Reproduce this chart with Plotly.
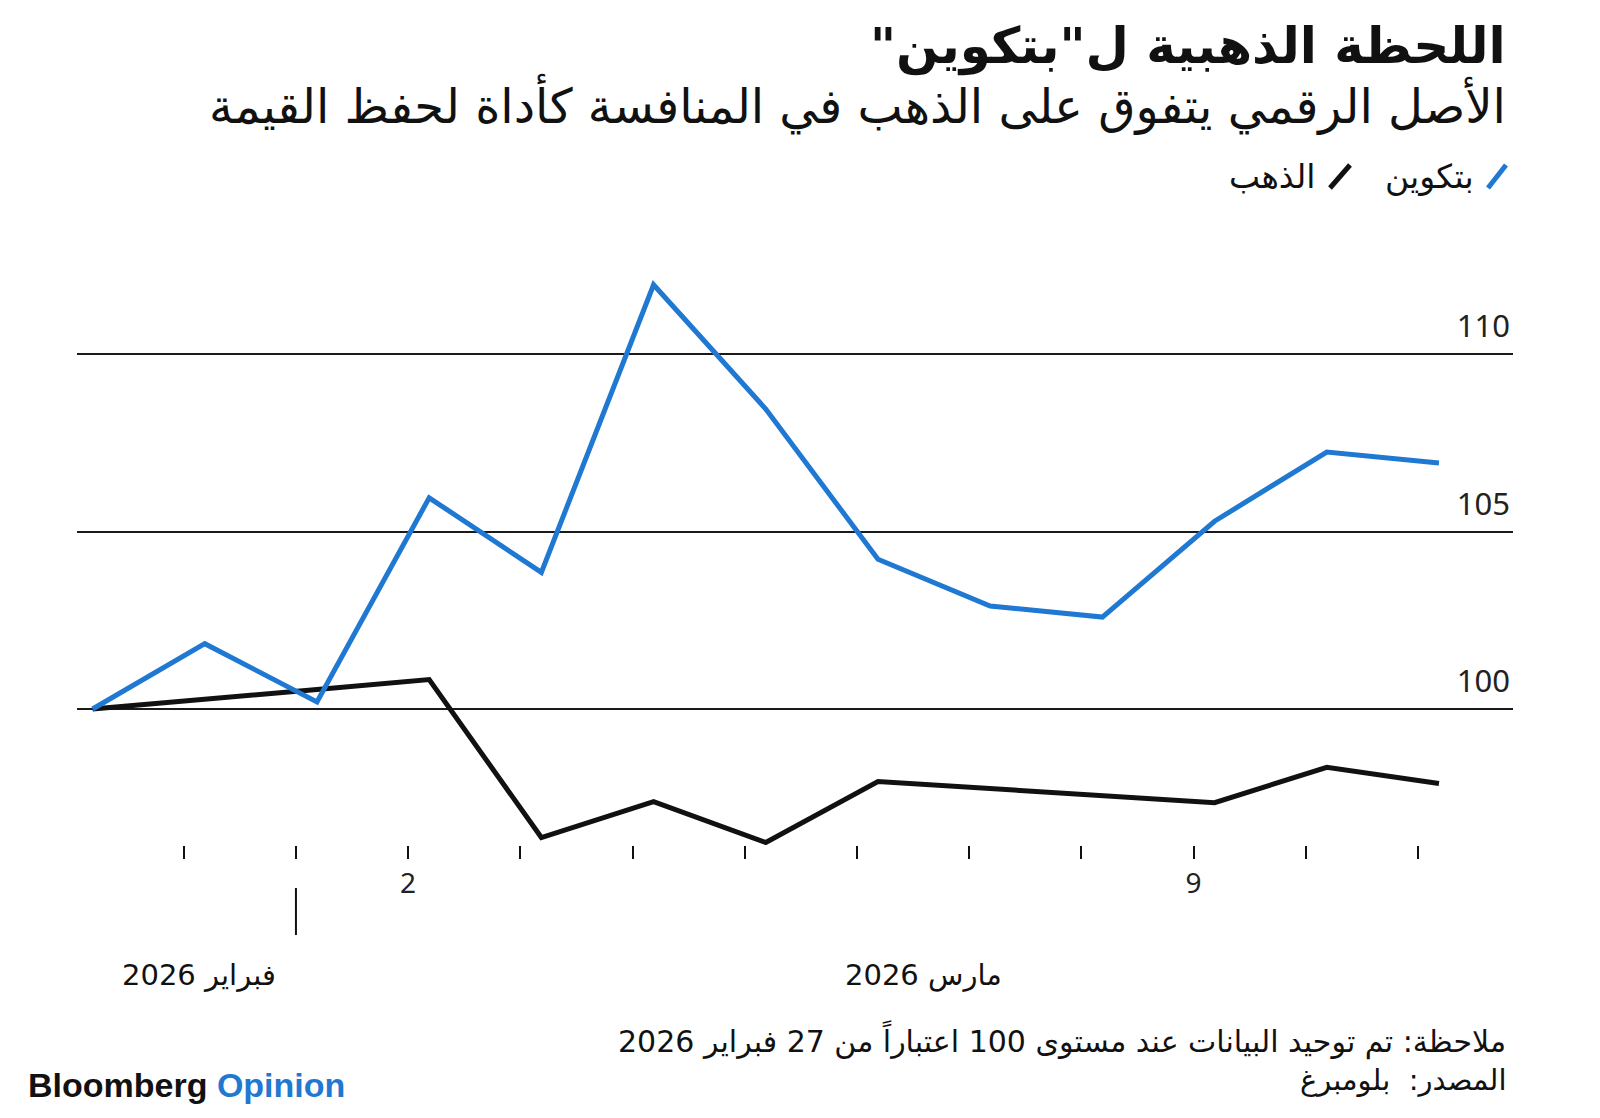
import pandas as pd
import plotly.graph_objects as go

# ---- data ----
dates = ["2026-02-27", "2026-02-28", "2026-03-01", "2026-03-02", "2026-03-03",
         "2026-03-04", "2026-03-05", "2026-03-06", "2026-03-07", "2026-03-08",
         "2026-03-09", "2026-03-10", "2026-03-11"]
bitcoin = [100.0, 101.84, 100.2, 105.95, 103.85, 111.95, 108.45, 104.22,
           102.9, 102.59, 105.29, 107.24, 106.93]
gold = [100.0, 100.29, 100.55, 100.83, 96.38, 97.39, 96.24, 97.96,
        97.76, 97.56, 97.36, 98.36, 97.9]
tick_dates = ["2026-02-28", "2026-03-01", "2026-03-02", "2026-03-03", "2026-03-04",
              "2026-03-05", "2026-03-06", "2026-03-07", "2026-03-08", "2026-03-09",
              "2026-03-10", "2026-03-11"]
tick_labels = ["", "", "2", "", "", "", "", "", "", "9", "", ""]
y_ticks = [100, 105, 110]
month_labels = ["فبراير 2026", "مارس 2026"]
month_centers = ["2026-02-28 03:20", "2026-03-06 14:20"]
month_boundary = "2026-03-01"

RLM = "\u200f"
title = 'اللحظة الذهبية ل"بتكوين"' + RLM
subtitle = "الأصل الرقمي يتفوق على الذهب في المنافسة كأداة لحفظ القيمة"
series_names = ["بتكوين", "الذهب"]
note = "ملاحظة: تم توحيد البيانات عند مستوى 100 اعتباراً من 27 فبراير 2026"
source = "المصدر:  بلومبرغ"

BLUE = "#1f78d1"
BLACK = "#111111"
AR_FONT = "DejaVu Sans"
NUM_FONT = "Noto Sans"

W, H = 1600, 1118
L, R, T, B = 77, 87, 250, 273
PW, PH = W - L - R, H - T - B


def px(x):
    return (x - L) / PW


def py(y):
    return (H - B - y) / PH


x_vals = pd.to_datetime(dates) + pd.Timedelta(hours=4.5)

fig = go.Figure()
fig.add_trace(go.Scatter(x=x_vals, y=gold, mode="lines", name=series_names[1],
                         line=dict(color=BLACK, width=5), showlegend=False))
fig.add_trace(go.Scatter(x=x_vals, y=bitcoin, mode="lines", name=series_names[0],
                         line=dict(color=BLUE, width=5), showlegend=False))

fig.update_layout(
    width=W, height=H,
    margin=dict(l=L, r=R, t=T, b=B),
    paper_bgcolor="white", plot_bgcolor="white",
    xaxis=dict(
        type="date",
        range=["2026-02-27 01:10", "2026-03-11 20:20"],
        showgrid=False, showline=False, zeroline=False,
        tickvals=tick_dates, ticktext=tick_labels,
        ticks="outside", ticklen=13, tickwidth=2, tickcolor=BLACK,
        tickfont=dict(family=NUM_FONT, size=28, color="#222"),
    ),
    yaxis=dict(
        range=[96.17, 112.93],
        side="right",
        tickvals=y_ticks,
        ticklabelposition="inside top",
        ticklabelshift=-6,
        showgrid=True, gridcolor="#1a1a1a", gridwidth=2,
        showline=False, zeroline=False, ticks="",
        tickfont=dict(family=NUM_FONT, size=31, color="#222"),
    ),
)

# month boundary long tick
fig.add_shape(type="line", xref="x", yref="paper", x0=month_boundary, x1=month_boundary,
              y0=py(888), y1=py(935), line=dict(color=BLACK, width=2))

# month labels
for lab, c in zip(month_labels, month_centers):
    fig.add_annotation(x=c, xref="x", y=py(975), yref="paper", text=lab, showarrow=False,
                       xanchor="center", yanchor="middle",
                       font=dict(family=AR_FONT, size=29, color="#111"))

# title & subtitle
fig.add_annotation(x=px(1508), y=py(46), xref="paper", yref="paper", text="<b>" + title + "</b>",
                   showarrow=False, xanchor="right", yanchor="middle",
                   font=dict(family=AR_FONT, size=50, color="#111"))
fig.add_annotation(x=px(1508), y=py(104), xref="paper", yref="paper", text=subtitle,
                   showarrow=False, xanchor="right", yanchor="middle",
                   font=dict(family=AR_FONT, size=48, color="#111"))

# legend
fig.add_shape(type="line", xref="paper", yref="paper", x0=px(1488), y0=py(188), x1=px(1506), y1=py(165),
              line=dict(color=BLUE, width=5))
fig.add_annotation(x=px(1476), y=py(176), xref="paper", yref="paper", text=series_names[0],
                   showarrow=False, xanchor="right", yanchor="middle",
                   font=dict(family=AR_FONT, size=33, color="#111"))
fig.add_shape(type="line", xref="paper", yref="paper", x0=px(1330), y0=py(188), x1=px(1350), y1=py(165),
              line=dict(color=BLACK, width=5))
fig.add_annotation(x=px(1317), y=py(176), xref="paper", yref="paper", text=series_names[1],
                   showarrow=False, xanchor="right", yanchor="middle",
                   font=dict(family=AR_FONT, size=33, color="#111"))

# footer
fig.add_annotation(x=px(1508), y=py(1040), xref="paper", yref="paper", text=note,
                   showarrow=False, xanchor="right", yanchor="middle",
                   font=dict(family=AR_FONT, size=30, color="#111"))
fig.add_annotation(x=px(1508), y=py(1080), xref="paper", yref="paper", text=source,
                   showarrow=False, xanchor="right", yanchor="middle",
                   font=dict(family=AR_FONT, size=29, color="#111"))
fig.add_annotation(x=px(26), y=py(1085), xref="paper", yref="paper",
                   text="<b>Bloomberg</b> <b><span style='color:%s'>Opinion</span></b>" % BLUE,
                   showarrow=False, xanchor="left", yanchor="middle",
                   font=dict(family="Liberation Sans", size=34, color="#111"))

fig.write_html("out.html")
